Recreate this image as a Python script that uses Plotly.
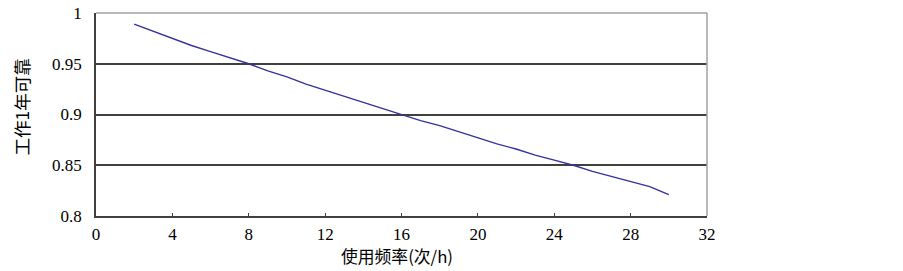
import plotly.graph_objects as go

freq = list(range(2, 31))
reliability = [0.989, 0.982, 0.975, 0.968, 0.962, 0.956, 0.950, 0.943, 0.937, 0.930,
               0.924, 0.918, 0.912, 0.906, 0.900, 0.894, 0.889, 0.883, 0.877, 0.871,
               0.866, 0.860, 0.855, 0.850, 0.844, 0.839, 0.834, 0.829, 0.821]
x_ticks = [0, 4, 8, 12, 16, 20, 24, 28, 32]
y_ticks = [0.8, 0.85, 0.9, 0.95, 1.0]
y_ticklabels = ["0.8", "0.85", "0.9", "0.95", "1"]

serif = "Liberation Serif"
cjk = "Noto Sans CJK SC"

fig = go.Figure()
fig.add_trace(go.Scatter(x=freq, y=reliability, mode="lines",
                         line=dict(color="#33339e", width=1.4), showlegend=False))

fig.update_layout(
    width=903, height=271,
    margin=dict(l=96, r=196, t=13, b=55, autoexpand=False),
    paper_bgcolor="white", plot_bgcolor="white",
    font=dict(family=serif, size=17, color="black"),
    xaxis=dict(range=[0, 32], tickvals=x_ticks, ticktext=[str(v) for v in x_ticks],
               showgrid=False, zeroline=False, showline=True, linecolor="#404040",
               linewidth=1.5, ticks="inside", ticklen=3, tickcolor="#404040",
               automargin=False, ticklabelstandoff=2,
               tickfont=dict(family=serif, size=17, color="black")),
    yaxis=dict(range=[0.8, 1.0], tickvals=y_ticks, ticktext=y_ticklabels,
               showgrid=True, gridcolor="#404040", gridwidth=1.5, zeroline=False,
               showline=True, linecolor="#404040", linewidth=1.5, ticks="",
               automargin=False, ticklabelstandoff=9,
               tickfont=dict(family=serif, size=17, color="black")),
    shapes=[
        dict(type="line", xref="paper", yref="paper", x0=0, x1=1, y0=1, y1=1,
             line=dict(color="#a0a0a0", width=1.5)),
        dict(type="line", xref="paper", yref="paper", x0=1, x1=1, y0=0, y1=1,
             line=dict(color="#a0a0a0", width=1.5)),
    ],
    annotations=[
        dict(text="使用频率(次/h)", xref="paper", yref="paper", x=0.4926, y=0,
             yshift=-40, xanchor="center", yanchor="middle", showarrow=False,
             font=dict(family=cjk, size=16.8, color="black")),
        dict(text="工作1年可靠", xref="paper", yref="paper", x=0, xshift=-75,
             y=0.5, yshift=7, xanchor="center", yanchor="middle", showarrow=False,
             textangle=-90, font=dict(family=cjk, size=17.5, color="black")),
    ],
)
fig.write_html("out.html", post_script="document.body.style.margin='0';",
               config={"displayModeBar": False})
